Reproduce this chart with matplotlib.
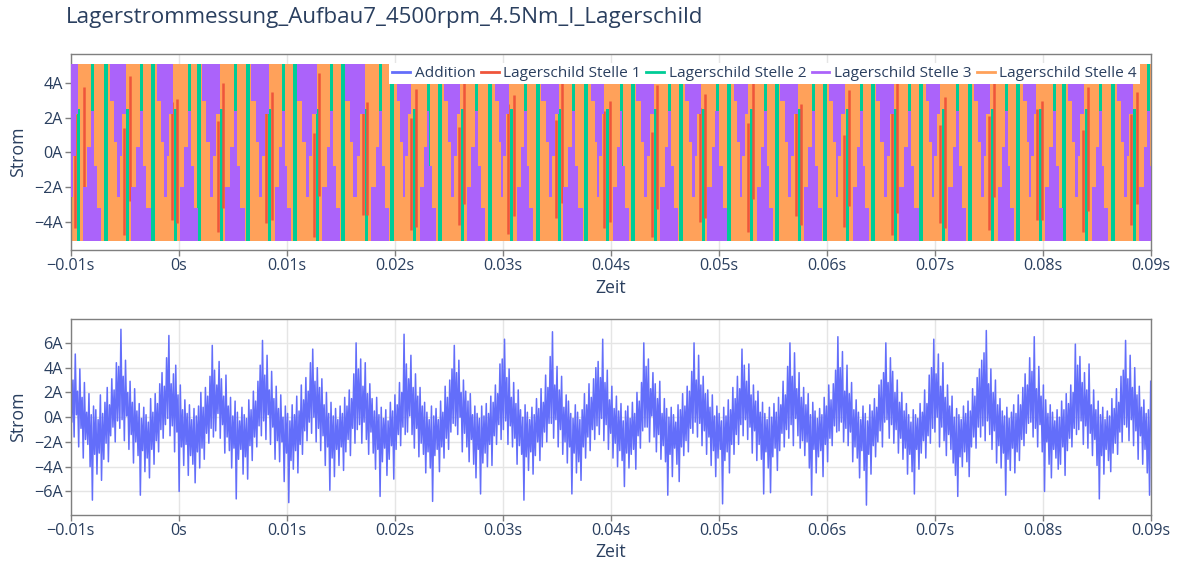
import numpy as np
import matplotlib
matplotlib.use("Agg")
import matplotlib.pyplot as plt
from matplotlib.lines import Line2D

plt.rcParams['font.family'] = ['Open Sans', 'DejaVu Sans']

# ---------------- data ----------------
title = "Lagerstrommessung_Aufbau7_4500rpm_4.5Nm_I_Lagerschild"
series_names = ["Addition", "Lagerschild Stelle 1", "Lagerschild Stelle 2",
                "Lagerschild Stelle 3", "Lagerschild Stelle 4"]
series_colors = ["#636EFA", "#EF553B", "#00CC96", "#AB63FA", "#FFA15A"]

t_range = [-0.01, 0.09]
x_ticks = [-0.01, 0.0, 0.01, 0.02, 0.03, 0.04, 0.05, 0.06, 0.07, 0.08, 0.09]
x_tick_labels = ["\u22120.01s", "0s", "0.01s", "0.02s", "0.03s", "0.04s",
                 "0.05s", "0.06s", "0.07s", "0.08s", "0.09s"]
top_y_ticks = [-4, -2, 0, 2, 4]
top_y_labels = ["\u22124A", "\u22122A", "0A", "2A", "4A"]
bot_y_ticks = [-6, -4, -2, 0, 2, 4, 6]
bot_y_labels = ["\u22126A", "\u22124A", "\u22122A", "0A", "2A", "4A", "6A"]

# saturation level of the four bearing-shield sensors (A)
clip_lo, clip_hi = -5.1, 5.1

# Stelle 3 (purple): centres (ms) and widths (ms) of the saturated phases
s3_top_ms = [-9.88, -5.62, -1.27, 2.99, 7.53, 11.88, 16.32, 20.86, 25.31, 29.94,
             34.38, 38.82, 43.18, 47.62, 52.06, 56.51, 60.95, 65.40, 69.84,
             74.38, 78.82, 83.08, 87.62]
s3_top_w = [1.2, 1.4, 1.5, 1.7, 1.6, 1.8, 1.8, 1.3, 1.5, 1.3, 1.6, 1.2, 1.6, 1.4,
            1.3, 1.6, 1.4, 1.7, 1.3, 1.5, 1.2, 1.5, 1.4]
s3_bot_ms = [-8.03, -3.49, 0.95, 5.21, 9.66, 14.10, 18.64, 23.08, 27.53, 32.06,
             36.51, 40.95, 45.40, 49.84, 54.29, 58.73, 63.18, 67.62, 72.06,
             76.60, 81.05, 85.31, 89.75]
s3_bot_w = [1.7, 1.8, 1.7, 1.8, 1.5, 1.6, 1.6, 1.4, 1.7, 1.5, 1.8, 1.4, 1.6, 1.9,
            1.5, 1.7, 1.4, 1.8, 1.6, 1.5, 1.7, 1.4, 1.6]

# Stelle 2 (green): full-range bursts, lower-range and upper-range bursts (ms)
s2_full_ms = [-6.72, -2.37, 1.89, 6.43, 10.78, 15.22, 19.76, 24.21, 28.84, 33.28,
              37.72, 42.08, 46.52, 50.96, 55.41, 59.85, 64.30, 68.74, 73.28,
              77.72, 81.98, 86.52]
s2_low_ms = [-9.28, -4.74, -0.30, 3.96, 8.41, 12.85, 17.39, 21.83, 26.28, 30.81,
             35.26, 39.70, 44.15, 48.59, 53.04, 57.48, 61.93, 66.37, 70.81,
             75.35, 79.80, 84.06, 88.50]
s2_up_ms = [-7.98, -3.44, 1.00, 5.26, 9.71, 14.15, 18.69, 23.13, 27.58, 32.11,
            36.56, 41.00, 45.45, 49.89, 54.34, 58.78, 63.23, 67.67, 72.11,
            76.65, 81.10, 85.36, 89.80]

# Stelle 1 (red): visible spikes (ms, low A, high A)
s1_ms = [-8.73, -4.47, -0.12, 4.14, 8.68, 13.03, 17.47, 22.01, 26.46, 31.09,
         35.53, 39.97, 44.33, 48.77, 53.21, 57.66, 62.10, 66.55, 70.99, 75.53,
         79.97, 84.23, 88.77,
         -9.63, -5.09, -0.65, 3.61, 8.06, 12.50, 17.04, 21.48, 25.93, 30.46,
         34.91, 39.35, 43.80, 48.24, 52.69, 57.13, 61.58, 66.02, 70.46, 75.00,
         79.45, 83.71, 88.15]
s1_lo = [-3.5, -2.8, -4.1, -3.2, -3.9, -2.5, -3.6, -4.3, -3.0, -3.7, -2.9, -4.0,
         -3.3, -3.8, -2.7, -4.2, -3.1, -3.5, -4.4, -2.6, -3.9, -3.4, -3.0,
         -4.4, -4.8, -3.9, -4.6, -4.1, -4.9, -3.6, -4.5, -4.2, -4.7, -3.8, -4.4,
         -4.9, -4.0, -4.6, -3.7, -4.3, -4.8, -4.1, -4.5, -3.9, -4.6, -4.2]
s1_hi = [3.8, 4.4, 3.1, 4.0, 3.5, 4.6, 2.9, 3.7, 4.2, 3.3, 4.5, 3.0, 3.9, 3.4,
         4.3, 2.8, 3.6, 4.1, 3.2, 4.4, 3.0, 3.8, 3.5,
         2.2, 1.4, 2.9, 1.8, 2.5, 1.1, 2.7, 2.0, 1.5, 2.8, 1.9, 2.4, 1.2, 2.6,
         1.7, 2.3, 1.0, 2.9, 1.6, 2.1, 2.5, 1.3, 2.2]

# Addition (sum of the four sensors), samples over the full time range (A)
addition_A = [
    6.2, -0.4, 3.0, -1.6, 5.1, 0.2, 2.1, -2.4, 3.9, -0.9, 1.6, -3.3, 2.8, -1.8, 0.4, -2.2, 1.9, -4.0, 0.2, -6.7, 0.9, -3.0, 0.6, -4.6, -0.2, -2.9, 1.8, -5.1, 0.3, -3.4, 1.2, -2.1, 2.4, -3.6, 1.0, -1.5, 3.1, -0.8, 2.2, -2.0, 4.4, -0.3,
    4.1, -0.9, 7.1, -0.2, 3.3, -1.9, 4.6, 0.1, 2.0, -2.6, 2.9, -1.4, 1.2, -3.7, 2.3, -2.0, 0.5, -3.1, 1.1, -6.3, -0.1, -2.7, 0.8, -4.4, 0.2, -3.3, -0.4, -4.9, 1.5, -2.6, 0.4, -3.8, 1.9, -1.9, 1.1, -2.8, 2.7, -1.0, 3.6, -1.7, 2.5, -0.6,
    4.8, -0.1, 6.6, -1.5, 2.7, -0.7, 3.5, -2.8, 4.2, -1.2, 1.8, -6.0, 2.6, -2.4, 0.6, -3.9, 1.4, -2.2, 0.3, -4.7, 1.0, -3.1, -0.2, -3.8, 0.7, -5.3, 0.1, -2.8, 0.9, -4.1, 2.0, -2.5, 0.8, -3.4, 2.4, -1.3, 1.7, -2.1, 3.3, -0.9, 5.8, -1.6,
    3.8, -1.1, 2.6, 0.3, 4.5, -1.7, 3.1, -0.6, 1.7, -2.9, 3.4, -1.6, 0.9, -2.7, 1.6, -4.1, 0.1, -2.5, 1.3, -6.6, 0.4, -3.4, -0.3, -2.6, 0.8, -4.6, 0.2, -3.2, -0.1, -5.0, 1.4, -2.3, 0.6, -3.5, 2.1, -1.6, 1.3, -2.4, 2.9, -0.7, 4.2, -1.5,
    6.2, -0.3, 3.4, -1.8, 5.0, 0.2, 2.2, -2.2, 3.7, -0.8, 1.5, -3.4, 2.5, -1.9, 0.7, -3.6, 1.8, -2.0, 0.0, -5.2, 0.9, -2.9, 0.3, -6.9, -0.3, -3.5, 1.0, -4.2, 0.2, -2.7, 1.7, -4.5, 0.5, -2.2, 2.6, -3.0, 1.4, -1.1, 3.2, -1.9, 2.1, -0.4,
    4.4, -1.3, 5.5, 0.0, 2.9, -2.0, 4.0, -0.9, 2.4, -2.7, 3.1, -1.5, 1.0, -3.9, 2.0, -2.4, 0.3, -5.9, 1.2, -3.3, 0.1, -4.8, 0.7, -2.6, -0.2, -3.9, 0.9, -2.4, 0.3, -4.3, 1.6, -2.8, 0.9, -1.8, 2.2, -3.1, 1.5, -0.9, 3.5, -2.1, 6.0, -1.0,
    3.9, -0.6, 4.7, -2.1, 2.5, -0.4, 4.4, -1.8, 1.9, -3.0, 2.7, -1.2, 1.5, -2.9, 0.5, -4.2, 1.6, -2.6, 0.2, -6.4, 0.8, -3.6, -0.1, -2.5, 0.6, -4.7, -0.3, -3.4, 1.2, -2.3, 0.5, -5.0, 1.8, -2.6, 1.0, -1.4, 2.8, -2.3, 2.0, -0.8, 6.7, -1.4,
    4.3, -1.2, 3.1, 0.1, 5.0, -1.4, 2.4, -2.5, 3.5, -0.9, 1.7, -3.2, 2.4, -2.1, 0.9, -3.0, 1.2, -4.5, 0.4, -2.8, -0.2, -4.1, 0.9, -6.8, 0.1, -3.1, 0.7, -2.6, -0.2, -4.4, 1.3, -2.4, 0.4, -3.3, 2.5, -1.7, 1.6, -2.6, 3.0, -1.2, 3.9, -0.5,
    5.8, -0.7, 3.6, -1.4, 4.6, 0.0, 2.0, -2.8, 3.0, -1.3, 2.1, -2.4, 1.3, -3.6, 1.9, -1.8, 0.2, -3.8, 0.9, -4.9, 0.3, -2.6, -0.1, -6.2, 0.9, -3.7, 0.1, -2.9, 1.1, -4.0, 0.3, -2.2, 1.7, -3.9, 1.2, -1.5, 2.6, -2.2, 1.9, -0.6, 4.3, -1.8,
    4.7, -1.0, 6.3, -0.3, 3.2, -2.2, 3.9, -0.7, 1.6, -2.4, 2.8, -1.7, 1.1, -3.8, 2.2, -2.3, 0.6, -3.0, 0.0, -6.7, 1.0, -3.2, 0.4, -4.3, -0.2, -2.8, 0.8, -4.6, 0.2, -3.1, 1.5, -2.0, 0.7, -3.5, 2.3, -2.4, 1.2, -1.2, 3.4, -2.0, 2.4, -0.5,
    4.9, -0.5, 6.9, -1.7, 2.6, -0.2, 4.1, -2.4, 2.2, -1.0, 3.3, -3.0, 0.8, -2.0, 1.8, -3.7, 1.3, -2.4, 0.3, -6.2, -0.1, -2.9, 1.0, -4.5, 0.4, -3.6, -0.2, -5.1, 0.6, -2.4, 1.9, -3.3, 1.0, -1.6, 2.7, -2.7, 1.6, -1.0, 3.1, -1.8, 4.0, -0.7,
    4.5, -1.4, 3.2, -0.1, 6.3, -1.9, 2.8, -0.6, 3.8, -2.6, 1.4, -1.3, 2.5, -3.3, 0.7, -2.1, 1.7, -4.0, 0.5, -2.7, 1.1, -3.5, -0.3, -5.6, 0.5, -2.9, 0.9, -4.1, -0.1, -3.0, 1.2, -2.6, 0.3, -4.2, 2.0, -1.5, 1.3, -2.5, 2.8, -1.1, 6.0, -0.8,
    4.1, -0.8, 4.7, -2.0, 2.3, 0.1, 3.6, -1.6, 2.7, -2.8, 1.5, -1.4, 2.9, -3.4, 0.3, -2.3, 1.5, -3.6, 0.7, -6.3, 0.0, -3.0, 0.8, -4.8, 0.2, -2.5, -0.4, -3.8, 1.0, -5.2, 0.6, -2.4, 1.9, -3.1, 0.9, -1.9, 2.5, -2.8, 2.1, -0.9, 3.7, -1.3,
    6.0, -0.4, 3.0, -1.6, 5.0, -0.5, 2.6, -2.3, 3.3, -1.1, 1.9, -3.0, 2.2, -1.6, 0.8, -3.9, 1.8, -2.7, 0.1, -4.8, 0.9, -3.3, 0.3, -2.6, -0.3, -7.0, 0.8, -3.5, 0.1, -2.8, 1.4, -4.5, 0.6, -2.2, 2.4, -3.0, 1.5, -1.4, 3.3, -2.2, 2.3, -0.6,
    5.5, -1.5, 4.2, -0.2, 2.9, -1.8, 4.3, -0.8, 1.8, -2.9, 2.6, -1.1, 1.3, -3.5, 2.1, -2.2, 0.4, -3.4, 1.2, -6.2, 0.3, -2.8, -0.2, -4.1, 0.8, -6.1, 0.0, -3.2, 1.1, -2.5, 0.4, -4.3, 1.6, -2.7, 1.0, -1.3, 2.9, -2.4, 1.8, -1.0, 4.1, -1.7,
    6.0, -0.6, 3.3, -2.3, 5.2, -0.1, 2.3, -1.5, 3.6, -2.5, 1.6, -1.9, 2.4, -3.1, 1.0, -2.0, 1.9, -4.1, 0.2, -6.3, 1.2, -2.6, 0.5, -4.5, -0.1, -3.2, 0.7, -2.7, 0.2, -4.8, 1.6, -2.2, 0.9, -3.6, 2.6, -1.7, 1.4, -2.3, 2.7, -0.7, 3.8, -1.2,
    6.5, -1.1, 4.0, -0.4, 5.3, -2.0, 2.1, -0.9, 4.2, -2.3, 1.9, -1.2, 2.8, -3.6, 0.6, -2.4, 1.4, -3.3, 0.4, -4.9, -0.2, -2.7, 0.9, -4.3, 0.3, -7.1, -0.3, -3.0, 1.0, -4.6, 0.5, -2.3, 1.5, -3.2, 0.8, -2.0, 2.6, -1.1, 3.0, -2.4, 3.6, -0.4,
    6.0, -0.2, 2.8, -1.7, 4.8, -0.6, 3.7, -2.1, 2.0, -1.0, 3.0, -2.9, 1.2, -1.7, 2.0, -3.4, 0.5, -2.5, 1.1, -4.6, 0.2, -3.0, -0.4, -4.4, 0.6, -6.2, 0.2, -2.6, -0.1, -4.2, 1.1, -2.9, 0.4, -1.9, 2.2, -3.3, 1.1, -1.5, 3.4, -2.1, 4.0, -0.9,
    6.3, -1.2, 3.5, 0.0, 5.1, -2.4, 2.5, -0.8, 4.4, -1.9, 1.6, -3.1, 2.6, -1.4, 0.9, -2.6, 1.7, -3.7, 0.0, -4.7, 0.7, -6.4, 0.2, -3.2, -0.2, -4.0, 0.9, -2.8, 0.3, -3.6, 1.3, -4.8, 0.5, -2.4, 2.3, -1.6, 1.7, -2.5, 3.2, -0.8, 3.9, -1.6,
    4.6, -0.7, 5.2, -1.9, 7.0, -0.3, 2.7, -1.4, 3.9, -2.6, 2.0, -1.1, 3.0, -3.7, 1.0, -2.3, 1.5, -4.1, 0.5, -2.9, 0.1, -6.3, 0.8, -3.4, -0.1, -4.3, 0.4, -2.5, 1.0, -4.5, 0.3, -2.8, 1.8, -3.5, 1.0, -1.8, 2.4, -2.3, 3.5, -1.3, 2.6, -0.5,
    4.8, -0.4, 3.7, -1.6, 6.5, -0.9, 2.3, -2.4, 4.1, -0.6, 1.7, -2.8, 2.6, -6.0, 1.4, -2.0, 0.3, -3.8, 1.0, -4.9, 0.4, -2.6, -0.3, -3.3, 0.6, -4.2, 0.0, -3.8, 1.3, -2.4, 0.6, -4.7, 1.9, -2.7, 1.1, -1.7, 2.6, -2.4, 2.0, -0.9, 5.9, -1.4,
    4.2, -1.0, 4.9, -0.3, 2.8, -2.2, 3.6, -0.7, 2.2, -2.5, 4.3, -1.3, 1.0, -3.1, 2.2, -1.8, 0.6, -3.9, 1.3, -6.6, 0.2, -3.1, 0.8, -4.6, -0.2, -2.6, 0.5, -3.5, 0.1, -4.4, 1.5, -2.9, 0.7, -2.1, 2.3, -3.0, 1.2, -1.2, 3.3, -2.0, 3.8, -0.6,
    6.2, -0.8, 3.1, -1.9, 5.0, -0.2, 2.4, -2.3, 4.0, -1.1, 1.8, -3.4, 2.5, -1.5, 0.8, -3.8, 1.4, -2.6, 0.3, -4.5, 0.6, -6.3, 2.9,
]

# ---------------- style ----------------
TXT = "#2a3f5f"
GRID = "#E5E5E5"
LINE = "#7f7f7f"
W, H = 1177, 563
TICK_FS = 11.6

fig = plt.figure(figsize=(W / 100, H / 100), dpi=100)
ax1 = fig.add_axes([70.7 / W, 1 - 250 / H, 1080 / W, 196 / H])
ax2 = fig.add_axes([70.7 / W, 1 - 515 / H, 1080 / W, 196 / H])

def style(ax, yticks, ylabels, ylim):
    ax.set_xlim(*t_range)
    ax.set_ylim(*ylim)
    ax.set_xticks(x_ticks)
    ax.set_xticklabels(x_tick_labels)
    ax.set_yticks(yticks)
    ax.set_yticklabels(ylabels)
    ax.grid(True, color=GRID, linewidth=1.0)
    ax.set_axisbelow(True)
    for s in ax.spines.values():
        s.set_color(LINE)
        s.set_linewidth(1.0)
    ax.tick_params(direction='out', length=4, width=1, color=LINE,
                   labelcolor=TXT, labelsize=TICK_FS, pad=1.5)

style(ax1, top_y_ticks, top_y_labels, (-5.65, 5.7))
style(ax2, bot_y_ticks, bot_y_labels, (-7.9, 7.93))

# ---------- top chart ----------
def to_s(v):
    return np.asarray(v) / 1000.0

# Stelle 4 (orange) - saturated band
ax1.fill_between(t_range, clip_lo, clip_hi, color=series_colors[4], lw=0, zorder=1)
# Stelle 2 (green)
for c in to_s(s2_full_ms):
    ax1.fill_between([c - 0.0002, c + 0.0002], clip_lo, clip_hi,
                     color=series_colors[2], lw=0, zorder=2)
for c in to_s(s2_low_ms):
    ax1.fill_between([c - 0.00015, c + 0.00015], clip_lo, 2.5,
                     color=series_colors[2], lw=0, zorder=2)
for c in to_s(s2_up_ms):
    ax1.fill_between([c - 0.00012, c + 0.00012], -1.0, clip_hi,
                     color=series_colors[2], lw=0, zorder=2)
# Stelle 1 (red)
ax1.vlines(to_s(s1_ms), s1_lo, s1_hi, color=series_colors[1], lw=1.8, zorder=3)
# Stelle 3 (purple) saturated phases: stepped columns (shape only)
step_x = np.array([-1, 1, 1, 0.55, 0.55, 0.2, 0.2, -0.15, -0.15, -0.5, -0.5, -1]) * 0.5
top_y = [clip_hi, clip_hi, 2.2, 2.2, -0.2, -0.2, -2.6, -2.6, 0.6, 0.6, 3.0, 3.0]
bot_y = [clip_lo, clip_lo, -3.2, -3.2, -0.8, -0.8, 2.4, 2.4, 0.3, 0.3, -2.0, -2.0]
for c, w in zip(to_s(s3_top_ms), to_s(s3_top_w)):
    ax1.fill(c + step_x * w, top_y, color=series_colors[3], lw=0, zorder=4)
for c, w in zip(to_s(s3_bot_ms), to_s(s3_bot_w)):
    ax1.fill(c + step_x * w, bot_y, color=series_colors[3], lw=0, zorder=4)

handles = [Line2D([0], [0], color=c, lw=2) for c in series_colors]
leg = ax1.legend(handles, series_names, ncol=5, loc='upper right',
                 bbox_to_anchor=(0.990, 0.954), frameon=True, fancybox=False,
                 facecolor='white', edgecolor='none', framealpha=1,
                 fontsize=11.1, handlelength=1.15, handletextpad=0.3,
                 columnspacing=0.35, borderpad=0.2, borderaxespad=0,
                 labelcolor=TXT)
leg.set_zorder(10)

# ---------- bottom chart ----------
t_add = np.linspace(t_range[0], t_range[1], len(addition_A))
ax2.plot(t_add, addition_A, color=series_colors[0], lw=1.1)

# ---------- texts ----------
fig.text(66 / W, 1 - 18 / H, title, ha='left', va='center', fontsize=16.1, color=TXT)
for yc in (152, 417):
    fig.text(18 / W, 1 - yc / H, "Strom", rotation=90, ha='center', va='center',
             fontsize=12.8, color=TXT)
for yc in (288, 552):
    fig.text(610.7 / W, 1 - yc / H, "Zeit", ha='center', va='center',
             fontsize=12.8, color=TXT)

fig.savefig("out.png", dpi=100)
